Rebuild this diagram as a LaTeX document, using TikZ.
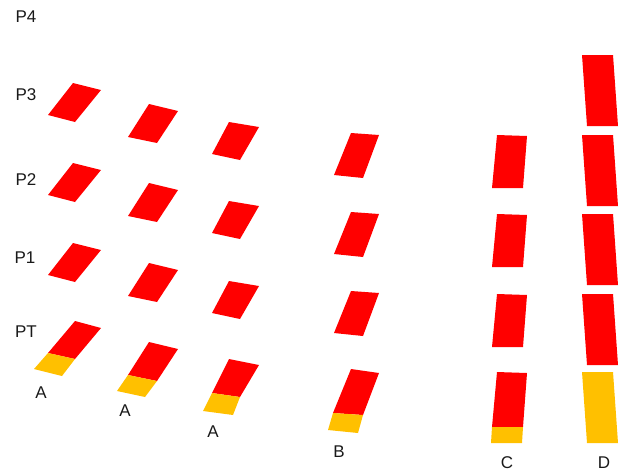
\documentclass[tikz,border=0pt]{standalone}
\usepackage{fontspec}
\setmainfont{Liberation Sans}
\definecolor{cRed}{HTML}{FF0000}
\definecolor{cYel}{HTML}{FFC000}
\begin{document}
\begin{tikzpicture}[x=1pt,y=-1pt,
  redpart/.style={fill=cRed},
  yelpart/.style={fill=cYel},
  lbl/.style={inner sep=0pt,font=\fontsize{17}{20}\selectfont,text=black!90}]
\useasboundingbox (0,0) rectangle (620,472);
% labels
\node[lbl] (p4) at (26,17) {P4};
\node[lbl] (p3) at (26,95) {P3};
\node[lbl] (p2) at (26,180) {P2};
\node[lbl] (p1) at (25,258) {P1};
\node[lbl] (pt) at (26,332) {PT};
\node[lbl] (la1) at (41,393) {A};
\node[lbl] (la2) at (125,411) {A};
\node[lbl] (la3) at (213,432) {A};
\node[lbl] (lb) at (339,452) {B};
\node[lbl] (lc) at (507,463) {C};
\node[lbl] (ld) at (604,463) {D};
% column A1
\foreach \y in {83,163,243}
  \fill[redpart] (73,\y) -- (101,\y+7) -- (75,\y+39) -- (48,\y+32) -- cycle;
\fill[redpart] (75,321) -- (101,328) -- (75,359) -- (48,353) -- cycle;
\fill[yelpart] (48,353) -- (75,359) -- (62,376) -- (34,369) -- cycle;
% column A2
\foreach \y in {104,183,263}
  \fill[redpart] (149,\y) -- (178,\y+7) -- (157,\y+39) -- (128,\y+33) -- cycle;
\fill[redpart] (149,342) -- (178,349) -- (157,381) -- (128,375) -- cycle;
\fill[yelpart] (128,375) -- (157,381) -- (145,397) -- (117,391) -- cycle;
% column A3
\foreach \y in {122,201,281}
  \fill[redpart] (229,\y) -- (259,\y+5) -- (240,\y+38) -- (212,\y+32) -- cycle;
\fill[redpart] (229,359) -- (259,365) -- (240,397) -- (212,393) -- cycle;
\fill[yelpart] (212,393) -- (240,397) -- (233,415) -- (203,411) -- cycle;
% column B
\foreach \y in {133,212,291}
  \fill[redpart] (351,\y) -- (379,\y+2) -- (363,\y+45) -- (334,\y+42) -- cycle;
\fill[redpart] (351,369) -- (379,373) -- (363,415) -- (333,413) -- cycle;
\fill[yelpart] (333,413) -- (363,415) -- (358,433) -- (328,430) -- cycle;
% column C
\foreach \y in {135,214,294}
  \fill[redpart] (497,\y) -- (527,\y+1) -- (523,\y+53) -- (492,\y+53) -- cycle;
\fill[redpart] (497,372) -- (527,373) -- (523,427) -- (492,427) -- cycle;
\fill[yelpart] (492,427) -- (523,427) -- (522,443) -- (491,443) -- cycle;
% column D
\foreach \y in {55,135,214,294}
  \fill[redpart] (582,\y) -- (613,\y) -- (618,\y+71) -- (587,\y+71) -- cycle;
\fill[yelpart] (582,372) -- (613,372) -- (618,443) -- (587,443) -- cycle;
\end{tikzpicture}
\end{document}
